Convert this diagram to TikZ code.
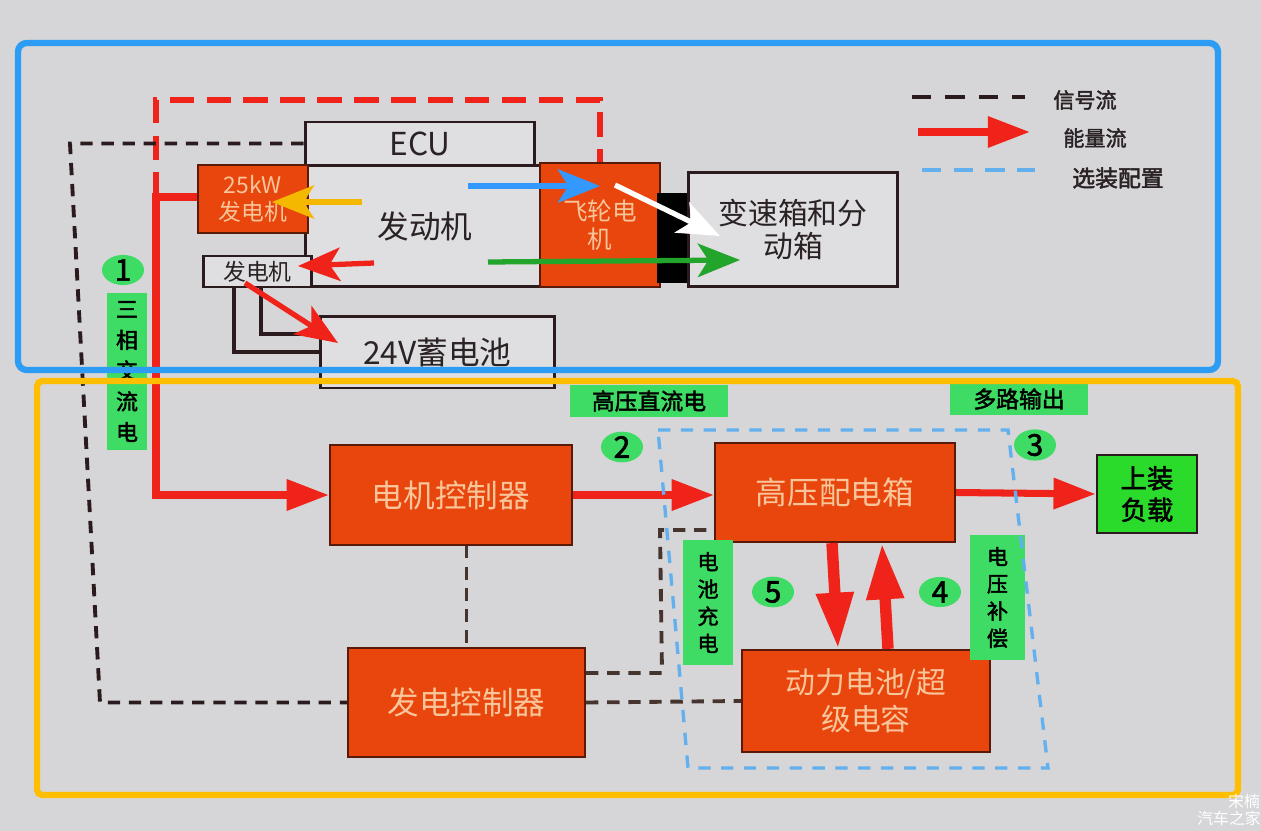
\documentclass[tikz,border=0pt]{standalone}
\usepackage{fontspec}
\setmainfont{Noto Sans CJK SC}[AutoFakeBold=2]
\usetikzlibrary{arrows.meta,shapes.geometric}
\definecolor{bgc}{HTML}{D6D6D8}
\definecolor{gfill}{HTML}{DFDEE0}
\definecolor{dline}{HTML}{2B1B1E}
\definecolor{gtext}{HTML}{2A2224}
\definecolor{ofill}{HTML}{E8460C}
\definecolor{obord}{HTML}{5A1A0A}
\definecolor{otext}{HTML}{F9C59A}
\definecolor{glab}{HTML}{3EDC64}
\definecolor{loadg}{HTML}{2BDB2B}
\definecolor{ered}{HTML}{F0231B}
\definecolor{bframe}{HTML}{2C9CF4}
\definecolor{oframe}{HTML}{FFBF00}
\definecolor{bdashc}{HTML}{62B0EE}
\definecolor{sigc}{HTML}{45352E}
\definecolor{yarrow}{HTML}{F5B800}
\definecolor{barrow}{HTML}{3399FF}
\definecolor{garrow}{HTML}{22A52A}
\tikzset{
  gbox/.style={draw=dline, line width=1.7pt, fill=gfill, text=gtext, inner sep=0pt, align=center, font=\fontsize{18}{22}\selectfont},
  obox/.style={draw=obord, line width=1.3pt, fill=ofill, text=otext, inner sep=0pt, align=center, font=\fontsize{18}{22}\selectfont},
  glabel/.style={fill=glab, text=black, inner sep=0pt, align=center, font=\bfseries\fontsize{13}{16}\selectfont},
  vlabel/.style={fill=glab, text=black, inner sep=0pt, align=center, font=\bfseries\fontsize{12.5}{16}\selectfont},
  gnum/.style={ellipse, fill=glab, text=black, minimum width=0.84cm, minimum height=0.6cm, inner sep=0pt, font=\bfseries\fontsize{17}{17}\selectfont},
  energy/.style={draw=ered, line width=4pt, -{Triangle[length=24pt,width=17pt]}},
  bigflow/.style={draw=ered, line width=6.5pt, -{Triangle[length=32pt,width=20pt]}},
  sig/.style={draw=sigc, line width=2.2pt, dash pattern=on 7pt off 5pt},
  rdash/.style={draw=ered, line width=3.4pt, dash pattern=on 14pt off 7pt},
  bdash/.style={draw=bdashc, line width=1.9pt, dash pattern=on 7pt off 6pt},
  hint/.style={line width=3pt, -{Stealth[length=24pt,width=19pt,inset=6pt]}},
  legtext/.style={text=gtext, font=\bfseries\fontsize{12}{14}\selectfont, inner sep=0pt}
}
\begin{document}
\begin{tikzpicture}[x=0.02cm,y=-0.02cm]
\fill[bgc] (0,0) rectangle (1261,831);
\useasboundingbox (0,0) rectangle (1261,831);

% ---- top part boxes ----
\node[gbox, minimum width=4.8cm, minimum height=2.44cm] (eng) at (425,226) {发动机};
\node[gbox, minimum width=4.6cm, minimum height=0.86cm] (ecu) at (420,143.5) {ECU};
\node[obox, minimum width=2.2cm, minimum height=1.36cm, font=\fontsize{13}{15}\selectfont] (gen) at (253,199) {25kW\\发电机};
\node[gbox, minimum width=2.18cm, minimum height=0.62cm, font=\fontsize{13}{15}\selectfont] (sgen) at (257.5,271.5) {发电机};
\node[gbox, minimum width=4.7cm, minimum height=1.44cm] (bat24) at (437.5,352) {24V蓄电池};
\node[obox, minimum width=2.4cm, minimum height=2.48cm, font=\fontsize{14}{16}\selectfont] (fly) at (600,225) {飞轮电\\机};
\node[fill=black, minimum width=0.76cm, minimum height=1.8cm, inner sep=0pt] (coup) at (676,238) {};
\node[gbox, minimum width=4.2cm, minimum height=2.3cm, font=\fontsize{17}{19}\selectfont] (gbx) at (793,229.5) {变速箱和分\\动箱};

% wires generator -> 24V battery
\coordinate (w1) at (234,352);
\coordinate (w2) at (261,334);
\draw[dline, line width=2.2pt] (sgen.south -| w1) -- (w1) -- (w1 -| bat24.west);
\draw[dline, line width=2.2pt] (sgen.south -| w2) -- (w2) -- (w2 -| bat24.west);

% ---- lower part boxes ----
\node[obox, minimum width=4.84cm, minimum height=2.0cm] (mc) at (451,495) {电机控制器};
\node[obox, minimum width=4.8cm, minimum height=1.98cm] (hv) at (835,492.5) {高压配电箱};
\node[obox, minimum width=4.74cm, minimum height=2.18cm] (gc) at (466.5,702.5) {发电控制器};
\node[obox, minimum width=4.96cm, minimum height=2.04cm, font=\fontsize{17}{21}\selectfont] (bat) at (866,701) {动力电池/超\\级电容};
\node[draw=dline, line width=1.5pt, fill=loadg, text=black, inner sep=0pt, align=center, minimum width=2.0cm, minimum height=1.56cm, font=\bfseries\fontsize{15}{18}\selectfont] (load) at (1147,494) {上装\\负载};

% ---- green labels ----
\node[gnum] (n1) at (123,270) {1};
\node[vlabel, minimum width=0.8cm, minimum height=3.14cm, font=\bfseries\fontsize{12.5}{17.5}\selectfont] (l1) at (127,371.5) {三\\相\\交\\流\\电};
\node[glabel, minimum width=3.16cm, minimum height=0.64cm] (l2) at (649,401) {高压直流电};
\node[gnum] (n2) at (622,447) {2};
\node[glabel, minimum width=2.76cm, minimum height=0.64cm] (l3) at (1019,399) {多路输出};
\node[gnum] (n3) at (1035,445) {3};
\node[vlabel, minimum width=1.0cm, minimum height=2.5cm, font=\bfseries\fontsize{12}{15.5}\selectfont] (l5) at (708,602.5) {电\\池\\充\\电};
\node[gnum] (n5) at (773,592) {5};
\node[gnum] (n4) at (940,592) {4};
\node[vlabel, minimum width=1.1cm, minimum height=2.5cm, font=\bfseries\fontsize{12}{15.5}\selectfont] (l4) at (997.5,597.5) {电\\压\\补\\偿};

% ---- red dashed (optional route) and energy flows ----
\coordinate (c1) at (156,197);
\coordinate (rt) at (600,100);
\draw[rdash] (c1) |- (rt) -- (fly.north);
\draw[energy] (gen.west |- c1) -- (c1) |- (mc.west);
\draw[energy] (mc.east) -- (mc.east -| hv.west);
\draw[energy] (hv.east) -- (load.west);
\draw[bigflow] ([xshift=-0.06cm]hv.south) -- ([xshift=-0.56cm]bat.north);
\draw[bigflow] ([xshift=0.44cm]bat.north) -- ([xshift=0.94cm]hv.south);

% ---- signal lines ----
\coordinate (s1) at (70,143.5);
\coordinate (s2) at (100,702.5);
\draw[sig, draw=dline] (ecu.west) -- (s1) -- (s2) -- (gc.west);
\draw[sig] (gc.north |- mc.south) -- (gc.north);
\coordinate (s3) at (662,673);
\coordinate (s4) at (660,530);
\draw[sig] (gc.east |- s3) -- (s3) -- (s4) -- (s4 -| hv.west);
\draw[sig] (gc.east) -- (bat.west);

% ---- optional configuration (blue dashed) ----
\coordinate (q1) at (658,430);
\coordinate (q2) at (1008,430);
\coordinate (q3) at (1048,768);
\coordinate (q4) at (688,768);
\draw[bdash] (q1) -- (q2) -- (q3) -- (q4) -- cycle;

% ---- overlay arrows (top) ----
\coordinate (ya1) at (362,202); \coordinate (ya2) at (272,202);
\draw[hint, draw=yarrow, fill=yarrow] (ya1) -- (ya2);
\coordinate (ra1) at (374,263); \coordinate (ra2) at (298,266);
\draw[hint, draw=ered, fill=ered] (ra1) -- (ra2);
\coordinate (ra3) at (245,283); \coordinate (ra4) at (338,343);
\draw[hint, draw=ered, fill=ered] (ra3) -- (ra4);
\coordinate (ba1) at (468,186); \coordinate (ba2) at (600,186);
\draw[hint, draw=barrow, fill=barrow] (ba1) -- (ba2);
\coordinate (wa1) at (615,185); \coordinate (wa2) at (720,236);
\draw[hint, draw=white, fill=white] (wa1) -- (wa2);
\coordinate (ga1) at (488,262); \coordinate (ga2) at (740,260);
\draw[hint, draw=garrow, fill=garrow] (ga1) -- (ga2);

% ---- legend ----
\coordinate (lg1a) at (912,97); \coordinate (lg1b) at (1025,97);
\draw[sig, draw=dline, line width=2.4pt, dash pattern=on 11pt off 8pt] (lg1a) -- (lg1b);
\node[legtext] (lt1) at (1085,100) {信号流};
\coordinate (lg2a) at (918,132); \coordinate (lg2b) at (1030,132);
\draw[energy] (lg2a) -- (lg2b);
\node[legtext] (lt2) at (1095,138) {能量流};
\coordinate (lg3a) at (922,170); \coordinate (lg3b) at (1035,170);
\draw[bdash, line width=2.4pt, dash pattern=on 11pt off 7pt] (lg3a) -- (lg3b);
\node[legtext, font=\bfseries\fontsize{13}{15}\selectfont] (lt3) at (1118,178) {选装配置};

% ---- frames ----
\draw[bframe, line width=3.6pt, rounded corners=5pt] (18,43) rectangle (1218,370);
\draw[oframe, line width=3.6pt, rounded corners=3pt] (37,381) rectangle (1238,795);

% ---- watermark ----
\node[text=white, font=\fontsize{9}{10}\selectfont, inner sep=0pt] (wm1) at (1244,801) {宋楠};
\node[text=white, font=\fontsize{9}{10}\selectfont, inner sep=0pt] (wm2) at (1229,818) {汽车之家};
\end{tikzpicture}
\end{document}
